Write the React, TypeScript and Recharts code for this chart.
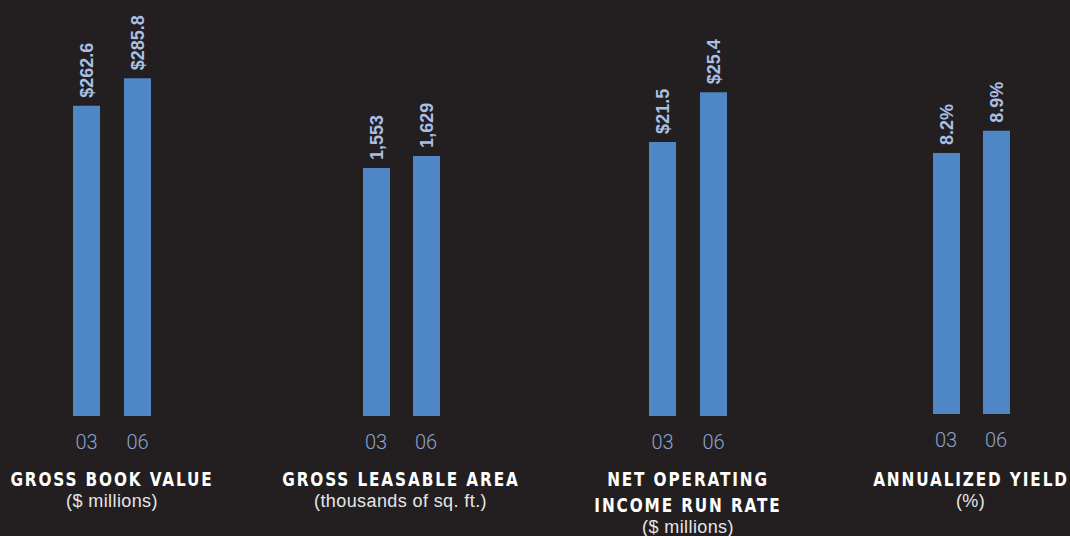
import { BarChart, Bar, XAxis, YAxis, LabelList } from 'recharts';

// Report years shown under each pair of bars
const years = ['03', '06'];

// Series values
const grossBookValue = [262.6, 285.8];
const grossLeasableArea = [1553, 1629];
const noiRunRate = [21.5, 25.4];
const annualizedYield = [8.2, 8.9];

const BG = '#231f20';
const BAR = '#4e86c6';
const LABEL = '#a9bfe4';
const TICK = '#8ea3cb';

interface Panel {
  values: number[];
  format: (v: number) => string;
  title: string[];
  subtitle: string;
  center: number;
  spacing: number;
  bottom: number;
  domainMax: number;
}

const panels: Panel[] = [
  {
    values: grossBookValue,
    format: (v) => `$${v.toFixed(1)}`,
    title: ['GROSS BOOK VALUE'],
    subtitle: '($ millions)',
    center: 112,
    spacing: 51,
    bottom: 416,
    domainMax: 335.1,
  },
  {
    values: grossLeasableArea,
    format: (v) => v.toLocaleString('en-US'),
    title: ['GROSS LEASABLE AREA'],
    subtitle: '(thousands of sq. ft.)',
    center: 400.5,
    spacing: 50,
    bottom: 416,
    domainMax: 2480,
  },
  {
    values: noiRunRate,
    format: (v) => `$${v.toFixed(1)}`,
    title: ['NET OPERATING', 'INCOME RUN RATE'],
    subtitle: '($ millions)',
    center: 688,
    spacing: 51,
    bottom: 416,
    domainMax: 31.06,
  },
  {
    values: annualizedYield,
    format: (v) => `${v.toFixed(1)}%`,
    title: ['ANNUALIZED YIELD'],
    subtitle: '(%)',
    center: 970.5,
    spacing: 50,
    bottom: 414,
    domainMax: 12.38,
  },
];

const CHART_W = 200;
const CHART_H = 536;
const PLOT_TOP = 20;
const AXIS_H = 30;

const makeLabel = (format: (v: number) => string) => (props: any) => {
  const { x, y, width, value } = props;
  const cx = Number(x) + Number(width) / 2;
  const ty = Number(y) - 8;
  return (
    <text
      x={cx}
      y={ty}
      transform={`rotate(-90 ${cx} ${ty})`}
      textAnchor="start"
      dy="0.36em"
      fill={LABEL}
      fontSize={18}
      fontWeight="bold"
      fontFamily="'Liberation Sans', Arial, sans-serif"
    >
      {format(Number(value))}
    </text>
  );
};

const PanelChart = ({ panel }: { panel: Panel }) => {
  const data = years.map((year, i) => ({ year, value: panel.values[i] }));
  const side = (CHART_W - panel.spacing * 2) / 2;
  return (
    <div style={{ position: 'absolute', left: panel.center - CHART_W / 2, top: 0 }}>
      <BarChart
        width={CHART_W}
        height={CHART_H}
        data={data}
        margin={{ top: PLOT_TOP, right: side, left: side, bottom: CHART_H - panel.bottom - AXIS_H }}
      >
        <XAxis
          dataKey="year"
          axisLine={false}
          tickLine={false}
          height={AXIS_H}
          tickMargin={13}
          tick={{ fill: TICK, fontSize: 20, fontWeight: 300, fontFamily: 'Roboto, sans-serif' }}
        />
        <YAxis hide domain={[0, panel.domainMax]} />
        <Bar dataKey="value" fill={BAR} barSize={27} isAnimationActive={false}>
          <LabelList dataKey="value" content={makeLabel(panel.format)} />
        </Bar>
      </BarChart>
      <div
        style={{
          position: 'absolute',
          left: 0,
          top: 466,
          width: CHART_W,
          textAlign: 'center',
        }}
      >
        {panel.title.map((line) => (
          <div
            key={line}
            style={{
              color: '#ffffff',
              fontWeight: 'bold',
              fontSize: 20,
              lineHeight: '26px',
              letterSpacing: 2.2,
              whiteSpace: 'nowrap',
              fontFamily: "'DejaVu Sans Condensed', 'DejaVu Sans', sans-serif",
              transform: 'scaleX(0.85)',
              marginLeft: -60,
              marginRight: -60,
            }}
          >
            {line}
          </div>
        ))}
        <div
          style={{
            color: '#e6e6e6',
            fontSize: 18,
            lineHeight: '14px',
            letterSpacing: 0.4,
            marginTop: 2,
            fontFamily: "'Liberation Sans', Arial, sans-serif",
            whiteSpace: 'nowrap',
            marginLeft: -60,
            marginRight: -60,
          }}
        >
          {panel.subtitle}
        </div>
      </div>
    </div>
  );
}

export default function App() {
  return (
    <div
      style={{
        position: 'absolute',
        left: 0,
        top: 0,
        width: 1070,
        height: 536,
        background: BG,
        overflow: 'hidden',
      }}
    >
      {panels.map((p) => (
        <PanelChart key={p.title.join(' ')} panel={p} />
      ))}
    </div>
  );
}
